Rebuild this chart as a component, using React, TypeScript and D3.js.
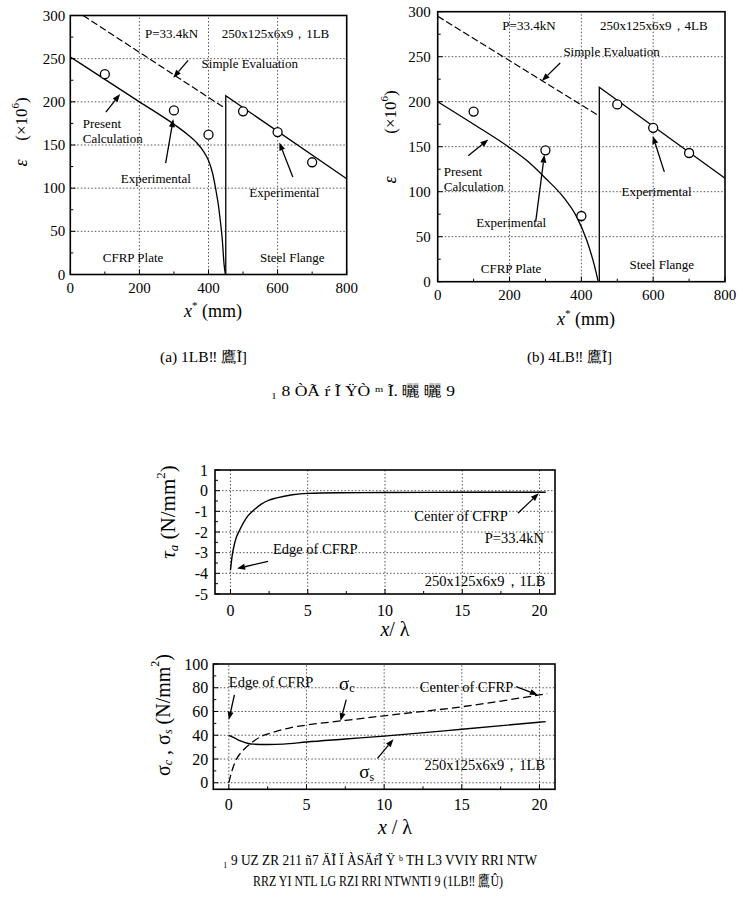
import React from "react";
import * as d3 from "d3";

const W = 743;
const H = 901;
const SERIF = "Liberation Serif, Times New Roman, DejaVu Serif, serif";

// ---------- Fig. 8 (a): 1LB, strain along the flange ----------
const aPresentX = [0, 100, 200, 300, 340, 365, 385, 400, 412, 420, 428, 434, 440, 445, 449];
const aPresentY = [252, 226, 200, 174, 162, 153, 143, 132, 117, 101, 82, 63, 40, 12, 0];
const aSimpleX = [37, 450];
const aSimpleY = [300, 192];
const aSteelX = [450, 450, 800];
const aSteelY = [0, 207, 111];
const aExpX = [100, 300, 400, 500, 600, 700];
const aExpY = [232, 190, 162, 189, 165, 130];

// ---------- Fig. 8 (b): 4LB ----------
const bPresentX = [0, 100, 200, 250, 300, 350, 387, 415, 435, 447];
const bPresentY = [200, 175, 149, 134, 115, 94, 72, 46, 20, 0];
const bSimpleX = [0, 450];
const bSimpleY = [295, 184];
const bSteelX = [450, 450, 800];
const bSteelY = [0, 216, 115];
const bExpX = [100, 300, 400, 500, 600, 700];
const bExpY = [189, 146, 73, 197, 171, 143];

// ---------- Fig. 9: adhesive shear stress ----------
const tauX = [0, 0.1, 0.3, 0.6, 1.0, 1.5, 2, 2.5, 3, 4, 5, 7, 10, 15, 20.4];
const tauY = [-3.85, -3.2, -2.45, -1.9, -1.35, -0.95, -0.65, -0.46, -0.35, -0.2, -0.13, -0.1, -0.09, -0.08, -0.08];

// ---------- Fig. 9: CFRP and steel normal stress ----------
const sigCX = [0, 0.2, 0.5, 0.9, 1.4, 2, 3, 4, 5, 7.5, 10, 15, 20.5];
const sigCY = [0, 10, 20, 27, 33, 38.5, 43, 46.5, 48.6, 52.5, 56.4, 64, 75];
const sigSX = [0, 0.4, 0.8, 1.2, 1.6, 2.5, 3.5, 5, 7.5, 10, 15, 20.4];
const sigSY = [40, 37.5, 35, 33.3, 32.5, 32.2, 32.5, 34.3, 36.8, 39.3, 45, 51.5];

// tick values
const strainXMajor = [0, 200, 400, 600, 800];
const strainXMinor = [100, 300, 500, 700];
const strainYMajor = [0, 50, 100, 150, 200, 250, 300];
const strainYMinor = [25, 75, 125, 175, 225, 275];
const lamXMajor = [0, 5, 10, 15, 20];
const lamXMinor = [2.5, 7.5, 12.5, 17.5];
const tauYMajor = [1, 0, -1, -2, -3, -4, -5];
const tauYMinor = [0.5, -0.5, -1.5, -2.5, -3.5, -4.5];
const sigYMajor = [0, 20, 40, 60, 80, 100];
const sigYMinor = [10, 30, 50, 70, 90];

// caption strings
const capA = "(a)  1LB‼ 鷹Ĩ]";
const capB = "(b)  4LB‼ 鷹Ĩ]";
const cap8 = "₁  8  ÒÃ ŕ Ĩ  ŸÒ ᵐ Ĩ. 曬 曬 9";
const cap9a = "₁  9  UZ  ZR  211  ñ7  ÄĨ  Ï  ÀSÄŕĨ  Ÿ ᵇ  TH  L3  VVIY RRI NTW";
const cap9b = "RRZ YI  NTL  LG   RZI RRI NTWNTI 9    (1LB‼ 鷹Û)";

type Scale = d3.ScaleLinear<number, number>;

function pathOf(xs: Scale, ys: Scale, X: number[], Y: number[], curve: d3.CurveFactory = d3.curveLinear) {
  return d3
    .line<number>()
    .x((i) => xs(X[i]))
    .y((i) => ys(Y[i]))
    .curve(curve)(X.map((_, i) => i)) as string;
}

function Arrow({ x1, y1, x2, y2 }: { x1: number; y1: number; x2: number; y2: number }) {
  const a = Math.atan2(y2 - y1, x2 - x1);
  const L = 8;
  const hw = 3;
  const bx = x2 - L * Math.cos(a);
  const by = y2 - L * Math.sin(a);
  const px = -Math.sin(a) * hw;
  const py = Math.cos(a) * hw;
  return (
    <g>
      <line x1={x1} y1={y1} x2={bx} y2={by} stroke="#000" strokeWidth={1.3} />
      <path d={`M${x2},${y2}L${bx + px},${by + py}L${bx - px},${by - py}Z`} fill="#000" />
    </g>
  );
}

function Frame({
  xs, ys, xMajor, xMinor, yMajor, yMinor, fs, xLabOff, yLabOff,
}: {
  xs: Scale; ys: Scale; xMajor: number[]; xMinor: number[]; yMajor: number[]; yMinor: number[];
  fs: number; xLabOff: number; yLabOff: number;
}) {
  const [x0, x1] = xs.range();
  const [y0, y1] = ys.range();
  const inside = (v: number, s: Scale) => {
    const p = s(v);
    const [r0, r1] = s.range();
    return Math.abs(p - r0) > 2 && Math.abs(p - r1) > 2;
  };
  return (
    <g>
      {xMajor.filter((v) => inside(v, xs)).map((v) => (
        <line key={"gx" + v} x1={xs(v)} x2={xs(v)} y1={y0} y2={y1} stroke="#555" strokeWidth={1} strokeDasharray="1.5,2" />
      ))}
      {yMajor.filter((v) => inside(v, ys)).map((v) => (
        <line key={"gy" + v} x1={x0} x2={x1} y1={ys(v)} y2={ys(v)} stroke="#555" strokeWidth={1} strokeDasharray="1.5,2" />
      ))}
      {xMajor.map((v) => (
        <line key={"tx" + v} x1={xs(v)} x2={xs(v)} y1={y0} y2={y0 - 5} stroke="#000" strokeWidth={1} />
      ))}
      {xMinor.map((v) => (
        <line key={"mx" + v} x1={xs(v)} x2={xs(v)} y1={y0} y2={y0 - 3} stroke="#000" strokeWidth={1} />
      ))}
      {yMajor.map((v) => (
        <line key={"ty" + v} x1={x0} x2={x0 + 5} y1={ys(v)} y2={ys(v)} stroke="#000" strokeWidth={1} />
      ))}
      {yMinor.map((v) => (
        <line key={"my" + v} x1={x0} x2={x0 + 3} y1={ys(v)} y2={ys(v)} stroke="#000" strokeWidth={1} />
      ))}
      <rect x={x0} y={y1} width={x1 - x0} height={y0 - y1} fill="none" stroke="#000" strokeWidth={1.6} />
      {xMajor.map((v) => (
        <text key={"lx" + v} x={xs(v)} y={y0 + xLabOff} textAnchor="middle" dominantBaseline="central" fontSize={fs} fontFamily={SERIF}>
          {String(v)}
        </text>
      ))}
      {yMajor.map((v) => (
        <text key={"ly" + v} x={x0 - yLabOff} y={ys(v)} textAnchor="end" dominantBaseline="central" fontSize={fs} fontFamily={SERIF}>
          {String(v)}
        </text>
      ))}
    </g>
  );
}

function Note({ x, y, text, fs, anchor = "start" }: { x: number; y: number; text: string; fs: number; anchor?: string }) {
  return (
    <text x={x} y={y} fontSize={fs} fontFamily={SERIF} dominantBaseline="central" textAnchor={anchor as any}>
      {text}
    </text>
  );
}

export default function App() {
  const axA = d3.scaleLinear().domain([0, 800]).range([70.3, 346.7]);
  const ayA = d3.scaleLinear().domain([0, 300]).range([274.5, 15.5]);
  const axB = d3.scaleLinear().domain([0, 800]).range([437.7, 725]);
  const ayB = d3.scaleLinear().domain([0, 300]).range([281.7, 11.7]);
  const txS = d3.scaleLinear().domain([-1, 21]).range([215, 555]);
  const tyS = d3.scaleLinear().domain([-5, 1]).range([594, 470]);
  const sxS = d3.scaleLinear().domain([-1, 21]).range([213.3, 555]);
  const syS = d3.scaleLinear().domain([-5.5, 100]).range([789.3, 664]);

  const fsNote = 13;

  const strainPanel = (
    xs: Scale, ys: Scale,
    present: [number[], number[]], simple: [number[], number[]], steel: [number[], number[]], exp: [number[], number[]],
  ) => (
    <g>
      <path d={pathOf(xs, ys, simple[0], simple[1])} fill="none" stroke="#000" strokeWidth={1.2} strokeDasharray="7,3" />
      <path d={pathOf(xs, ys, present[0], present[1], d3.curveMonotoneX)} fill="none" stroke="#000" strokeWidth={1.3} />
      <path d={pathOf(xs, ys, steel[0], steel[1])} fill="none" stroke="#000" strokeWidth={1.3} />
      {exp[0].map((v, i) => (
        <circle key={i} cx={xs(v)} cy={ys(exp[1][i])} r={4.5} fill="#fff" stroke="#000" strokeWidth={1.3} />
      ))}
    </g>
  );

  return (
    <svg
      width={W}
      height={H}
      viewBox={`0 0 ${W} ${H}`}
      fontFamily={SERIF}
      style={{ display: "block", position: "absolute", left: 0, top: 0, background: "#fff" }}
    >
      <rect x={0} y={0} width={W} height={H} fill="#fff" />
      <g fontFamily={SERIF}>
        {/* ---- (a) 1LB ---- */}
        <Frame xs={axA} ys={ayA} xMajor={strainXMajor} xMinor={strainXMinor} yMajor={strainYMajor} yMinor={strainYMinor} fs={15} xLabOff={13} yLabOff={5} />
        {strainPanel(axA, ayA, [aPresentX, aPresentY], [aSimpleX, aSimpleY], [aSteelX, aSteelY], [aExpX, aExpY])}
        <Note x={axA(216)} y={ayA(279)} text="P=33.4kN" fs={fsNote} />
        <Note x={axA(438)} y={ayA(279)} text="250x125x6x9，1LB" fs={fsNote} />
        <Note x={axA(380)} y={ayA(244)} text="Simple Evaluation" fs={fsNote} />
        <Arrow x1={axA(341)} y1={ayA(248)} x2={axA(298)} y2={ayA(228)} />
        <Note x={axA(36)} y={ayA(175)} text="Present" fs={fsNote} />
        <Note x={axA(36)} y={ayA(158)} text="Calculation" fs={fsNote} />
        <Arrow x1={axA(103)} y1={ayA(188)} x2={axA(144)} y2={ayA(209)} />
        <Note x={axA(146)} y={ayA(111)} text="Experimental" fs={fsNote} />
        <Arrow x1={axA(276)} y1={ayA(129)} x2={axA(298)} y2={ayA(180)} />
        <Note x={axA(518)} y={ayA(95)} text="Experimental" fs={fsNote} />
        <Arrow x1={axA(644)} y1={ayA(113)} x2={axA(605)} y2={ayA(153)} />
        <Note x={axA(94)} y={ayA(20)} text="CFRP Plate" fs={fsNote} />
        <Note x={axA(549)} y={ayA(20)} text="Steel Flange" fs={fsNote} />
        <text transform="translate(21,163) rotate(-90)" textAnchor="middle" dominantBaseline="central" fontSize={18} fontStyle="italic" fontFamily={SERIF}>ε</text>
        <text transform="translate(21,119) rotate(-90)" textAnchor="middle" dominantBaseline="central" fontSize={17} fontFamily={SERIF}>
          <tspan>(×10</tspan>
          <tspan dy={-6} fontSize={11}>6</tspan>
          <tspan dy={6}>)</tspan>
        </text>
        <text x={213} y={317} textAnchor="middle" fontSize={18} fontFamily={SERIF}>
          <tspan fontStyle="italic">x</tspan>
          <tspan dy={-8} fontSize={11}>*</tspan>
          <tspan dy={8}> (mm)</tspan>
        </text>

        {/* ---- (b) 4LB ---- */}
        <Frame xs={axB} ys={ayB} xMajor={strainXMajor} xMinor={strainXMinor} yMajor={strainYMajor} yMinor={strainYMinor} fs={15} xLabOff={13} yLabOff={7} />
        {strainPanel(axB, ayB, [bPresentX, bPresentY], [bSimpleX, bSimpleY], [bSteelX, bSteelY], [bExpX, bExpY])}
        <Note x={axB(180)} y={ayB(285)} text="P=33.4kN" fs={fsNote} />
        <Note x={axB(452)} y={ayB(285)} text="250x125x6x9，4LB" fs={fsNote} />
        <Note x={axB(350)} y={ayB(256)} text="Simple Evaluation" fs={fsNote} />
        <Arrow x1={axB(341)} y1={ayB(243)} x2={axB(290)} y2={ayB(223)} />
        <Note x={axB(17)} y={ayB(123)} text="Present" fs={fsNote} />
        <Note x={axB(17)} y={ayB(106)} text="Calculation" fs={fsNote} />
        <Arrow x1={axB(85)} y1={ayB(140)} x2={axB(141)} y2={ayB(158)} />
        <Note x={axB(107)} y={ayB(66)} text="Experimental" fs={fsNote} />
        <Arrow x1={axB(273)} y1={ayB(67)} x2={axB(297)} y2={ayB(141)} />
        <Note x={axB(512)} y={ayB(100)} text="Experimental" fs={fsNote} />
        <Arrow x1={axB(631)} y1={ayB(122)} x2={axB(599)} y2={ayB(162)} />
        <Note x={axB(120)} y={ayB(15)} text="CFRP Plate" fs={fsNote} />
        <Note x={axB(534)} y={ayB(19)} text="Steel Flange" fs={fsNote} />
        <text transform="translate(390,180) rotate(-90)" textAnchor="middle" dominantBaseline="central" fontSize={18} fontStyle="italic" fontFamily={SERIF}>ε</text>
        <text transform="translate(390,112) rotate(-90)" textAnchor="middle" dominantBaseline="central" fontSize={17} fontFamily={SERIF}>
          <tspan>(×10</tspan>
          <tspan dy={-6} fontSize={11}>6</tspan>
          <tspan dy={6}>)</tspan>
        </text>
        <text x={586} y={325} textAnchor="middle" fontSize={18} fontFamily={SERIF}>
          <tspan fontStyle="italic">x</tspan>
          <tspan dy={-8} fontSize={11}>*</tspan>
          <tspan dy={8}> (mm)</tspan>
        </text>

        {/* ---- Fig. 8 captions ---- */}
        <text x={160} y={357} dominantBaseline="central" fontSize={15} fontFamily={SERIF} textLength={87} lengthAdjust="spacingAndGlyphs">{capA}</text>
        <text x={527} y={357} dominantBaseline="central" fontSize={15} fontFamily={SERIF} textLength={85} lengthAdjust="spacingAndGlyphs">{capB}</text>
        <text x={271} y={391} dominantBaseline="central" fontSize={15} fontFamily={SERIF} textLength={184} lengthAdjust="spacingAndGlyphs">{cap8}</text>

        {/* ---- Fig. 9 upper: shear stress ---- */}
        <Frame xs={txS} ys={tyS} xMajor={lamXMajor} xMinor={lamXMinor} yMajor={tauYMajor} yMinor={tauYMinor} fs={16} xLabOff={16} yLabOff={7} />
        <path d={pathOf(txS, tyS, tauX, tauY, d3.curveMonotoneX)} fill="none" stroke="#000" strokeWidth={1.4} />
        <Note x={txS(11.9)} y={tyS(-1.23)} text="Center of CFRP" fs={14.5} />
        <Arrow x1={txS(18.6)} y1={tyS(-1.09)} x2={txS(19.95)} y2={tyS(-0.13)} />
        <Note x={txS(16.45)} y={tyS(-2.29)} text="P=33.4kN" fs={14.5} />
        <Note x={txS(2.75)} y={tyS(-2.8)} text="Edge of CFRP" fs={14.5} />
        <Arrow x1={txS(2.43)} y1={tyS(-3.42)} x2={txS(0.43)} y2={tyS(-3.77)} />
        <Note x={txS(12.58)} y={tyS(-4.37)} text="250x125x6x9，1LB" fs={14.5} />
        <text transform="translate(168,512) rotate(-90)" textAnchor="middle" dominantBaseline="central" fontSize={21} fontFamily={SERIF}>
          <tspan fontStyle="italic">τ</tspan>
          <tspan dy={5} fontSize={13} fontStyle="italic">a</tspan>
          <tspan dy={-5}>{"   (N/mm"}</tspan>
          <tspan dy={-8} fontSize={13}>2</tspan>
          <tspan dy={8}>)</tspan>
        </text>
        <text x={395} y={636} textAnchor="middle" fontSize={20} fontFamily={SERIF}>
          <tspan fontStyle="italic">x</tspan>
          <tspan>/ λ</tspan>
        </text>

        {/* ---- Fig. 9 lower: normal stresses ---- */}
        <Frame xs={sxS} ys={syS} xMajor={lamXMajor} xMinor={lamXMinor} yMajor={sigYMajor} yMinor={sigYMinor} fs={16} xLabOff={15} yLabOff={5} />
        <path d={pathOf(sxS, syS, sigCX, sigCY, d3.curveMonotoneX)} fill="none" stroke="#000" strokeWidth={1.3} strokeDasharray="8,4" />
        <path d={pathOf(sxS, syS, sigSX, sigSY, d3.curveMonotoneX)} fill="none" stroke="#000" strokeWidth={1.4} />
        <Note x={sxS(0)} y={syS(85)} text="Edge of CFRP" fs={14.5} />
        <Arrow x1={sxS(0.36)} y1={syS(74)} x2={sxS(0)} y2={syS(53)} />
        <text x={sxS(7.1)} y={syS(84)} dominantBaseline="central" fontSize={19} fontFamily={SERIF}>
          σ<tspan dy={5} fontSize={12}>c</tspan>
        </text>
        <Arrow x1={sxS(7.56)} y1={syS(70)} x2={sxS(7.19)} y2={syS(52)} />
        <Note x={sxS(12.3)} y={syS(81)} text="Center of CFRP" fs={14.5} />
        <Arrow x1={sxS(18.5)} y1={syS(81)} x2={sxS(19.9)} y2={syS(74)} />
        <text x={sxS(8.4)} y={syS(9.3)} dominantBaseline="central" fontSize={19} fontFamily={SERIF}>
          σ<tspan dy={5} fontSize={12}>s</tspan>
        </text>
        <Arrow x1={sxS(9.57)} y1={syS(20.6)} x2={sxS(10.6)} y2={syS(36.6)} />
        <Note x={sxS(12.6)} y={syS(14.9)} text="250x125x6x9，1LB" fs={14.5} />
        <text transform="translate(163,715) rotate(-90)" textAnchor="middle" dominantBaseline="central" fontSize={20} fontFamily={SERIF}>
          <tspan>σ</tspan>
          <tspan dy={5} fontSize={12} fontStyle="italic">c</tspan>
          <tspan dy={-5}>{" , σ"}</tspan>
          <tspan dy={5} fontSize={12} fontStyle="italic">s</tspan>
          <tspan dy={-5}>{" (N/mm"}</tspan>
          <tspan dy={-8} fontSize={12}>2</tspan>
          <tspan dy={8}>)</tspan>
        </text>
        <text x={395} y={834} textAnchor="middle" fontSize={20} fontFamily={SERIF}>
          <tspan fontStyle="italic">x</tspan>
          <tspan>{" / λ"}</tspan>
        </text>

        {/* ---- Fig. 9 captions ---- */}
        <text x={223} y={860} dominantBaseline="central" fontSize={15} fontFamily={SERIF} textLength={314} lengthAdjust="spacingAndGlyphs">{cap9a}</text>
        <text x={253} y={881} dominantBaseline="central" fontSize={15} fontFamily={SERIF} textLength={250} lengthAdjust="spacingAndGlyphs">{cap9b}</text>
      </g>
    </svg>
  );
}
